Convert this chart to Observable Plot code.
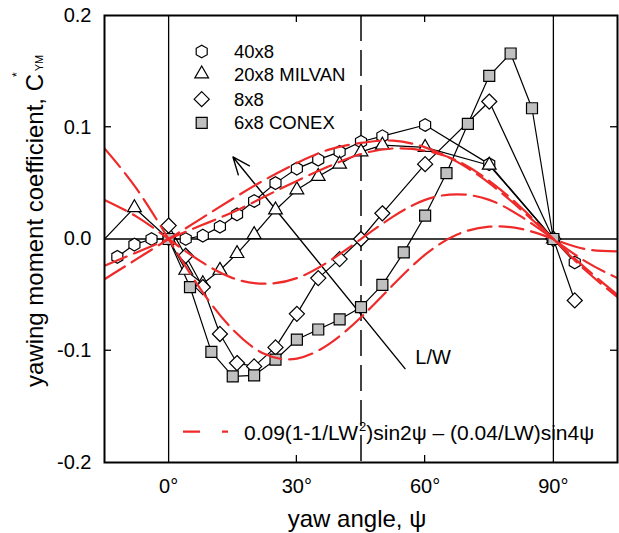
<!DOCTYPE html>
<html><head><meta charset="utf-8">
<script src="https://cdn.jsdelivr.net/npm/d3@7"></script>
<script src="https://cdn.jsdelivr.net/npm/@observablehq/plot@0.6"></script>
<style>
body{margin:0;background:#fff;}
#chart{width:619px;height:533px;}
svg{font-family:"Liberation Sans",Arial,sans-serif;}
</style></head><body><div id="chart"></div>
<script>
// ---- data ----
const seriesNames = ["40x8", "20x8 MILVAN", "8x8", "6x8 CONEX"];

const psi40x8 = [-12, -8, -4, 0, 4, 8, 12, 16, 20, 25, 30, 35, 40, 45, 50, 60, 75, 90, 95];
const c40x8   = [-0.016, -0.005, 0, 0, 0, 0.003, 0.011, 0.022, 0.034, 0.050, 0.063, 0.071, 0.078, 0.087, 0.092, 0.102, 0.067, 0, -0.021];

const psi20x8 = [-17, -8, 0, 4, 8, 12, 16, 20, 25, 30, 35, 40, 45, 50, 60, 75, 90];
const c20x8   = [-0.008, 0.028, 0, -0.028, -0.040, -0.028, -0.013, 0.004, 0.026, 0.044, 0.056, 0.067, 0.078, 0.084, 0.082, 0.066, 0];

const psi8x8 = [0, 4, 8, 12, 16, 20, 25, 30, 35, 40, 45, 50, 60, 75, 90, 95];
const c8x8   = [0.012, -0.015, -0.043, -0.085, -0.111, -0.114, -0.097, -0.067, -0.035, -0.018, 0, 0.023, 0.067, 0.123, 0, -0.055];

const psi6x8 = [0, 5, 10, 15, 20, 25, 30, 35, 40, 45, 50, 55, 60, 65, 70, 75, 80, 85, 90];
const c6x8   = [0, -0.043, -0.101, -0.123, -0.122, -0.108, -0.090, -0.081, -0.072, -0.061, -0.041, -0.012, 0.021, 0.059, 0.103, 0.146, 0.166, 0.117, 0];

// red dashed model curves
const redPsi   = [-15, -7.5, 0, 7.5, 15, 22.5, 30, 37.5, 45, 52.5, 60, 67.5, 75, 82.5, 90, 97.5, 105];
const red40x8  = [-0.036, -0.018, 0, 0.018, 0.036, 0.053, 0.068, 0.080, 0.086, 0.088, 0.082, 0.069, 0.050, 0.026, 0, -0.026, -0.050];
const red20x8  = [-0.024, -0.012, 0, 0.012, 0.024, 0.038, 0.052, 0.065, 0.076, 0.081, 0.079, 0.070, 0.052, 0.028, 0, -0.028, -0.052];
const red8x8   = [0.035, 0.020, 0, -0.020, -0.035, -0.040, -0.035, -0.020, 0, 0.020, 0.035, 0.040, 0.035, 0.020, 0, -0.020, -0.035];
const red6x8   = [0.081, 0.045, 0, -0.045, -0.081, -0.103, -0.107, -0.094, -0.070, -0.041, -0.014, 0.004, 0.011, 0.009, 0, -0.009, -0.011];

const xTicks = [0, 30, 60, 90];
const yTicks = [-0.2, -0.1, 0, 0.1, 0.2];
const xMinorTicks = [30, 60];
const yMinorTicks = [-0.1, 0.1];

const arrowData = [{x1: 55.3, y1: -0.116, x2: 15.05, y2: 0.0734}];
const lwLabel = [{x: 57.7, y: -0.106, t: "L/W"}];
const formulaParts = ["0.09(1-1/LW", "2", ")sin2\u03C8 \u2013 (0.04/LW)sin4\u03C8"];

// ---- tables ----
const seriesArrays = [[psi40x8, c40x8], [psi20x8, c20x8], [psi8x8, c8x8], [psi6x8, c6x8]];
const pts = [];
seriesArrays.forEach(([xs, ys], k) => xs.forEach((x, i) => pts.push({psi: x, c: ys[i], series: seriesNames[k]})));
const redSets = [red40x8, red20x8, red8x8, red6x8];
const redData = [];
redSets.forEach((ys, k) => redPsi.forEach((x, i) => redData.push({psi: x, c: ys[i], lw: seriesNames[k]})));

const RED = "#ee2a2a";
const FONT = "Liberation Sans, Arial, sans-serif";
const symbols = ["hexagon", "triangle", "diamond2", "square"];
const radii = [5.5, 5.1, 6.8, 6.2];
const fills = ["white", "white", "white", "#c0c0c0"];

const dotMarks = seriesNames.map((s, k) =>
  Plot.dot(pts.filter(d => d.series === s), {x: "psi", y: "c", symbol: symbols[k], r: radii[k],
    fill: fills[k], stroke: "black", strokeWidth: 1.2, clip: true}));

const plot = Plot.plot({
  width: 619, height: 533,
  marginLeft: 104, marginRight: 2, marginTop: 15, marginBottom: 71,
  style: {fontFamily: FONT, fontSize: "20px", color: "black", background: "white"},
  x: {domain: [-15, 105], label: null},
  y: {domain: [-0.2, 0.2], label: null},
  marks: [
    Plot.axisX({ticks: xTicks, tickFormat: d => d + "°", tickSize: 0, tickPadding: 16, fontSize: 20, label: null}),
    Plot.axisY({ticks: yTicks, tickFormat: d => d.toFixed(1), tickSize: 0, tickPadding: 13, fontSize: 20, label: null}),
    Plot.ruleY([0], {stroke: "black", strokeWidth: 1.3}),
    Plot.ruleX([0, 90], {stroke: "black", strokeWidth: 1.3}),
    Plot.ruleX([45], {stroke: "#222", strokeWidth: 1.7, strokeDasharray: "26,9"}),
    Plot.line(pts, {x: "psi", y: "c", z: "series", stroke: "black", strokeWidth: 1.2, clip: true}),
    Plot.arrow(arrowData, {x1: "x1", y1: "y1", x2: "x2", y2: "y2", stroke: "black", strokeWidth: 1.4, headLength: 20, headAngle: 45}),
    ...dotMarks,
    Plot.line(redData, {x: "psi", y: "c", z: "lw", stroke: RED, strokeWidth: 2.2, strokeDasharray: "24,8", curve: "natural", clip: true}),
    Plot.text(lwLabel, {x: "x", y: "y", text: "t", textAnchor: "start", lineAnchor: "middle", fontSize: 20}),
    Plot.frame({stroke: "black", strokeWidth: 2})
  ]
});
document.getElementById("chart").appendChild(plot);

// ---- decorations via the plot's own scales ----
const svg = d3.select(plot);
const sx = plot.scale("x"), sy = plot.scale("y");
const X = v => sx.apply(v), Y = v => sy.apply(v);
const L = 7;
const g = svg.append("g").attr("stroke", "black").attr("stroke-width", 1.3);
xMinorTicks.forEach(v => {
  g.append("line").attr("x1", X(v)).attr("x2", X(v)).attr("y1", Y(-0.2)).attr("y2", Y(-0.2) - L);
  g.append("line").attr("x1", X(v)).attr("x2", X(v)).attr("y1", Y(0.2)).attr("y2", Y(0.2) + L);
});
yMinorTicks.forEach(v => {
  g.append("line").attr("x1", X(-15)).attr("x2", X(-15) + L).attr("y1", Y(v)).attr("y2", Y(v));
  g.append("line").attr("x1", X(105)).attr("x2", X(105) - L).attr("y1", Y(v)).attr("y2", Y(v));
});

// legend (top-left)
const hexagon = {draw(ctx, size) {
  const rx = Math.sqrt(size / Math.PI), ry = rx * 2 / Math.sqrt(3), hy = ry / 2;
  ctx.moveTo(0, ry); ctx.lineTo(rx, hy); ctx.lineTo(rx, -hy); ctx.lineTo(0, -ry);
  ctx.lineTo(-rx, -hy); ctx.lineTo(-rx, hy); ctx.closePath();
}};
const d3types = [hexagon, d3.symbolTriangle, d3.symbolDiamond2, d3.symbolSquare];
const legendRows = [51.5, 74, 99.2, 122.8];
const lg = svg.append("g").attr("text-anchor", "start");
seriesNames.forEach((s, k) => {
  lg.append("path")
    .attr("d", d3.symbol().type(d3types[k]).size(Math.PI * radii[k] * radii[k])())
    .attr("transform", `translate(201.7,${legendRows[k]})`)
    .attr("fill", fills[k]).attr("stroke", "black").attr("stroke-width", 1.2);
  lg.append("text").attr("x", 234).attr("y", legendRows[k]).attr("dy", "0.36em")
    .attr("text-anchor", "start").attr("font-size", 18.5).attr("fill", "black").text(s);
});

// bottom legend for the model curves
svg.append("line").attr("x1", 183).attr("x2", 228).attr("y1", 431.7).attr("y2", 431.7)
  .attr("stroke", RED).attr("stroke-width", 2.2).attr("stroke-dasharray", "17,22");
const ft = svg.append("text").attr("x", 244).attr("y", 439.5).attr("text-anchor", "start")
  .attr("font-size", 21).attr("fill", "black");
ft.append("tspan").text(formulaParts[0]);
ft.append("tspan").attr("font-size", 13).attr("dx", 1).attr("dy", -9).text(formulaParts[1]);
ft.append("tspan").attr("dy", 9).text(formulaParts[2]);

// axis titles
svg.append("text").attr("x", 357).attr("y", 527).attr("text-anchor", "middle")
  .attr("font-size", 24).attr("fill", "black").text("yaw angle, \u03C8");
const yl = svg.append("text").attr("transform", "translate(43,387) rotate(-90)")
  .attr("text-anchor", "start").attr("font-size", 24).attr("fill", "black");
yl.append("tspan").text("yawing moment coefficient, C");
yl.append("tspan").attr("font-size", 12).attr("dx", -3).attr("dy", -22).text("*");
yl.append("tspan").attr("font-size", 11).attr("dx", 1).attr("dy", 22).text("YM");
</script></body></html>
